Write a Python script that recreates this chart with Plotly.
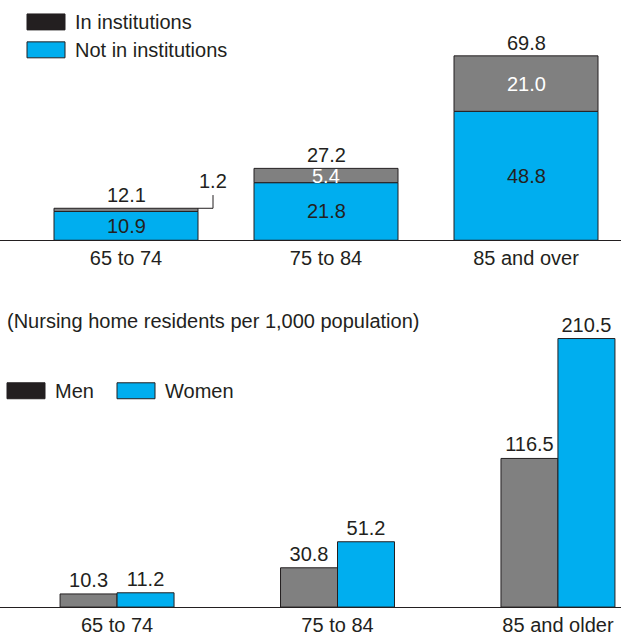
import plotly.graph_objects as go

# top panel: living arrangements (percent)
age_top = ['65 to 74', '75 to 84', '85 and over']
in_inst = [1.2, 5.4, 21.0]
not_inst = [10.9, 21.8, 48.8]
totals = [round(a + b, 1) for a, b in zip(in_inst, not_inst)]

# bottom panel: nursing home residents per 1,000
age_bot = ['65 to 74', '75 to 84', '85 and older']
men = [10.3, 30.8, 116.5]
women = [11.2, 51.2, 210.5]

W, H = 621, 636
BLUE = '#00aeef'
GRAY = '#808080'
DARK = '#231f20'
FONT = 'Liberation Sans, Arial, sans-serif'
bw = 0.72
gw = 0.2585


def px(x):
    return x / W


def py(y):
    return 1 - y / H


fig = go.Figure()

fig.add_trace(go.Bar(x=age_top, y=not_inst, width=bw, marker=dict(color=BLUE, line=dict(color=DARK, width=1)),
                     xaxis='x', yaxis='y', hoverinfo='skip'))
fig.add_trace(go.Bar(x=age_top, y=in_inst, base=not_inst, width=bw,
                     marker=dict(color=GRAY, line=dict(color=DARK, width=1)),
                     xaxis='x', yaxis='y', hoverinfo='skip'))

fig.add_trace(go.Bar(x=age_bot, y=men, width=gw, offset=-gw, marker=dict(color=GRAY, line=dict(color=DARK, width=1)),
                     text=[f'{v:.1f}' for v in men], textposition='outside', cliponaxis=False,
                     textfont=dict(size=20, color=DARK, family=FONT), xaxis='x2', yaxis='y2'))
fig.add_trace(go.Bar(x=age_bot, y=women, width=gw, offset=0, marker=dict(color=BLUE, line=dict(color=DARK, width=1)),
                     text=[f'{v:.1f}' for v in women], textposition='outside', cliponaxis=False,
                     textfont=dict(size=20, color=DARK, family=FONT), xaxis='x2', yaxis='y2'))

ann = []
shapes = []
for i, cat in enumerate(age_top):
    ann.append(dict(x=cat, y=not_inst[i] / 2, text=f'{not_inst[i]:.1f}', showarrow=False, xref='x', yref='y',
                    font=dict(size=20, color=DARK)))
    ann.append(dict(x=cat, y=totals[i], text=f'{totals[i]:.1f}', showarrow=False, xref='x', yref='y',
                    yanchor='bottom', yshift=0, font=dict(size=20, color=DARK)))
    if i == 0:
        # small segment: label off to the side with a leader line
        ann.append(dict(x=i + bw / 2 + 0.075, y=totals[i] + 10.5, text=f'{in_inst[i]:.1f}', showarrow=False,
                        xref='x', yref='y', font=dict(size=20, color=DARK)))
        shapes.append(dict(type='path', xref='x', yref='y',
                           path=f'M {i + bw / 2},{totals[i]} L {i + bw / 2 + 0.075},{totals[i]} '
                                f'L {i + bw / 2 + 0.075},{totals[i] + 5}',
                           line=dict(color=DARK, width=1)))
    else:
        ann.append(dict(x=cat, y=not_inst[i] + in_inst[i] / 2, text=f'{in_inst[i]:.1f}', showarrow=False,
                        xref='x', yref='y', font=dict(size=20, color='white')))

# legends
legend_items = [
    (27, 14, 'In institutions', DARK),
    (27, 42, 'Not in institutions', BLUE),
    (7, 384, 'Men', DARK),
    (117, 384, 'Women', BLUE),
]
for x0, y0, label, col in legend_items:
    shapes.append(dict(type='rect', xref='paper', yref='paper', x0=px(x0), x1=px(x0 + 38),
                       y0=py(y0), y1=py(y0 + 16), fillcolor=col, line=dict(color=DARK, width=1)))
    ann.append(dict(x=px(x0 + 46), y=py(y0 + 8), xref='paper', yref='paper', xanchor='left', yanchor='middle',
                    text=label, showarrow=False, font=dict(size=20, color=DARK)))

ann.append(dict(x=px(5), y=py(322), xref='paper', yref='paper', xanchor='left', yanchor='middle',
                text='(Nursing home residents per 1,000 population)', showarrow=False,
                font=dict(size=20, color=DARK)))

axis_common = dict(showline=True, linecolor=DARK, linewidth=1, showgrid=False, zeroline=False,
                   ticks='', tickfont=dict(size=20, color=DARK, family=FONT), fixedrange=True)

fig.update_layout(
    width=W, height=H,
    margin=dict(l=0, r=0, t=0, b=0),
    paper_bgcolor='white', plot_bgcolor='white',
    barmode='overlay',
    showlegend=False,
    font=dict(family=FONT, size=20, color=DARK),
    xaxis=dict(domain=[0, 1], range=[-0.63, 2.475], anchor='y', **axis_common),
    yaxis=dict(domain=[py(241), py(20)], range=[0, 83.4], visible=False, fixedrange=True),
    xaxis2=dict(domain=[0, 1], range=[-0.531, 2.286], anchor='y2', **axis_common),
    yaxis2=dict(domain=[py(609), py(330)], range=[0, 218], visible=False, fixedrange=True),
    annotations=ann,
    shapes=shapes,
)

fig.write_html("out.html", config={'displayModeBar': False},
               post_script="document.body.style.margin='0';document.body.style.overflow='hidden';")
